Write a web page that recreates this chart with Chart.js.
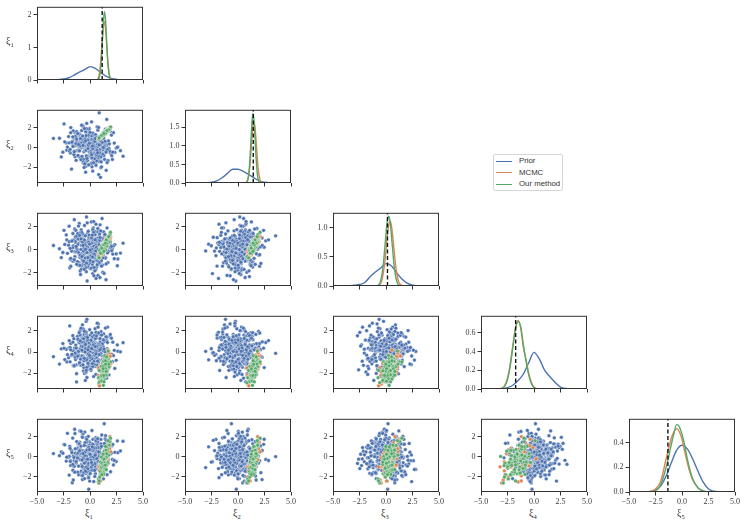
<!DOCTYPE html>
<html>
<head>
<meta charset="utf-8">
<script src="https://cdn.jsdelivr.net/npm/chart.js@4.4.1/dist/chart.umd.min.js"></script>
<style>
  body { margin: 0; background: #fff; width: 747px; height: 525px; position: relative; overflow: hidden; font-family: "Liberation Serif", "DejaVu Serif", serif; color: #333; }
  canvas { position: absolute; }
  .lab { position: absolute; font-size: 10px; color: #333; white-space: nowrap; }
  .lab sub { font-size: 6.5px; }
  #legend { position: absolute; left: 493px; top: 154px; width: 68px; height: 35px; border: 1px solid #d6d6d6; border-radius: 2px; font-family: "Liberation Sans", "DejaVu Sans", sans-serif; font-size: 7.8px; color: #333; }
  #legend div { position: absolute; left: 25px; }
  #legend span { position: absolute; left: 2px; width: 16px; height: 0; border-top: 1.5px solid; }
</style>
</head>
<body>
<div id="legend">
  <span style="top:5.5px;border-color:#4c72b0"></span><div style="top:1px">Prior</div>
  <span style="top:17px;border-color:#dd8452"></span><div style="top:12.5px">MCMC</div>
  <span style="top:28.5px;border-color:#55a868"></span><div style="top:24px">Our method</div>
</div>
<script>
// variable names
const names = ['1', '2', '3', '4', '5'];
// true parameter (dashed line on the diagonal)
const truth = [1.15, 1.44, 0.14, -1.73, -1.33];

// prior samples, one array per parameter
const prior1 = [-0.42, 1.13, 0.27, -1.58, 0.84, -0.06, 2.11, -0.93, 0.51, -0.31, 1.47, -2.24, 0.09, 0.66, -1.12, 0.38, -0.71, 1.79, -0.19, 0.95,
  -1.36, 0.22, -0.57, 1.02, -0.88, 0.44, 2.63, -0.14, -1.91, 0.73, 0.31, -0.49, 1.28, -1.04, 0.05, -2.71, 0.87, -0.27, 1.56, -0.65,
  0.18, -1.23, 0.59, 1.94, -0.38, -0.81, 0.12, 1.17, -1.67, 0.48, -0.09, 0.91, -0.52, 2.34, -1.45, 0.26, -0.74, 0.63, -0.21, 1.39,
  -0.98, 0.03, 1.71, -1.81, 0.36, -0.33, 0.79, -2.02, 0.55, -0.61, 1.21, -0.16, 0.42, -1.29, 0.97, -0.44, 0.15, 2.87, -0.83, 0.69,
  -0.24, -1.52, 0.33, 1.08, -0.68, 0.57, -3.45, 0.21, -0.11, 1.62, -1.07, 0.47, -0.36, 0.82, -1.97, 0.07, 1.34, -0.55, 0.29, -0.79,
  1.88, -0.28, 0.64, -1.18, 0.14, -0.62, 1.15, -2.45, 0.41, -0.03, 0.76, -1.39, 0.52, 1.43, -0.47, -0.89, 0.24, 2.05, -1.61, 0.35,
  -0.13, 0.88, -0.72, 1.25, -1.01, 0.61, -0.34, 0.01, 1.66, -1.74, 0.45, -0.58, 0.93, -0.18, -2.19, 0.71, 0.16, -0.95, 1.51, -0.41,
  0.32, -1.31, 1.04, -0.22, 0.58, -0.77, 3.12, -1.09, 0.19, -0.51, 0.85, -1.48, 0.39, 1.31, -0.64, 0.08, -0.29, 1.83, -1.21, 0.53,
  -0.86, 0.46, -0.07, 1.19, -1.63, 0.25, -0.39, 0.74, -2.56, 0.62, 1.45, -0.12, -0.69, 0.37, -1.15, 0.99, 0.11, -0.46, 2.21, -0.91,
  0.28, -1.86, 0.67, -0.25, 1.06, -0.54, 0.17, -1.42, 0.81, -0.35, 1.58, -0.02, -0.78, 0.43, -1.27, 0.94, -0.17, 0.56, -0.99, 1.23,
  0.58, -0.73, 1.36, -0.15, 0.21, -1.44, 0.92, -0.37, 1.74, -0.82, 0.04, 0.67, -1.96, 0.39, -0.26, 1.11, -0.59, 0.83, -1.17, 2.47,
  -0.45, 0.14, 1.29, -0.96, 0.51, -0.08, -1.58, 0.76, 0.33, -0.67, 1.53, -0.21, 0.97, -1.34, 0.06, -2.38, 0.62, 0.27, -0.84, 1.18,
  0.43, -1.06, 0.19, 1.69, -0.52, 0.85, -0.31, 0.02, -1.71, 1.37, 0.55, -0.44, 2.15, -0.13, 0.71, -0.94, 0.36, -1.25, 1.02, -0.61,
  -0.18, 0.94, -0.71, 0.23, 1.46, -1.51, 0.48, -0.04, -0.89, 1.61, 0.29, -0.38, 0.79, -2.13, 0.12, 0.66, -0.56, 1.24, -1.02, 0.41,
  1.07, -0.27, 0.52, -1.39, 0.17, 2.58, -0.64, 0.35, -0.1, 0.89, -1.82, 0.61, -0.33, 1.41, -0.79, 0.08, 0.74, -1.13, 0.46, -0.49,
  -1.27, 0.31, 0.86, -0.6, 1.92, -0.16, 0.24, -2.88, 0.68, -0.41, 1.14, -0.93, 0.13, 0.53, -1.49, 0.96, -0.23, 0.38, -0.7, 1.65,
  0.09, -1.16, 0.73, -0.35, 1.33, -0.53, 0.18, 2.29, -0.99, 0.44, -0.12, 0.87, -1.62, 0.26, 0.63, -0.47, 1.19, -0.85, 0.01, -1.31,
  0.57, 1.52, -0.66, 0.34, -0.2, -1.88, 0.81, 0.15, -0.54, 1.27, -0.29, 0.49, -1.08, 0.72, 2.02, -0.76, 0.22, -0.42, 1.09, -0.05];
const prior2 = [0.63, -0.85, 1.41, 0.12, -0.37, 1.96, -1.22, 0.28, -0.64, 0.91, -0.15, 0.47, -1.73, 1.08, 0.34, -0.52, 2.27, -0.09, -1.06, 0.72,
  0.19, 1.33, -0.44, -2.08, 0.58, -0.81, 0.06, 1.65, -0.29, 0.87, -1.38, 0.41, -0.67, 1.17, 0.23, -0.96, 3.55, -0.21, 0.52, -1.49,
  1.02, -0.33, 0.78, -0.58, -1.91, 0.14, 1.26, -0.73, 0.45, -0.11, 1.84, -1.17, 0.31, -0.49, 0.96, -2.41, 0.08, 0.67, -0.87, 1.49,
  -0.26, 0.55, -1.33, 2.04, -0.41, 0.17, -0.75, 1.12, 0.39, -1.62, 0.84, -0.05, -0.59, 1.36, -1.01, 0.27, 2.62, -0.32, 0.69, -1.26,
  0.44, -0.69, 1.21, -0.17, 0.03, -1.84, 0.93, -0.46, 1.58, 0.21, -0.91, 0.61, -0.24, -2.77, 0.48, 1.07, -0.62, 0.36, -1.11, 1.73,
  -0.38, 0.82, -0.14, 1.29, -1.56, 0.16, -0.78, 2.41, -0.04, 0.59, -1.24, 0.37, 0.98, -0.53, -1.69, 0.26, 1.44, -0.83, 0.11, -0.34,
  1.15, -1.43, 0.49, -0.19, 0.76, -0.97, 1.92, -0.61, 0.33, -2.21, 0.65, 0.02, -0.71, 1.38, -0.27, 0.54, -1.08, 0.89, -0.43, 1.61,
  -0.12, -1.31, 0.71, 0.24, -0.56, 1.23, -0.89, 0.42, -1.97, 0.13, 1.04, -0.36, 0.57, -0.82, 2.16, -0.07, -1.18, 0.38, 0.85, -0.65,
  0.29, -1.52, 1.31, -0.23, 0.66, -0.99, 0.09, 1.78, -0.48, -1.37, 0.51, -0.16, 1.09, -0.74, 0.22, -3.05, 0.79, -0.31, 1.52, -1.05,
  0.35, -0.55, 0.94, -0.08, -1.46, 0.62, 1.19, -0.93, 0.18, -0.28, 2.88, -0.66, 0.47, -1.14, 0.73, -0.39, 1.27, -1.79, 0.04, 0.86,
  -0.49, 1.18, 0.32, -0.91, 0.07, 1.57, -0.23, -1.45, 0.69, 0.14, -0.63, 2.12, -0.34, 0.51, -1.14, 0.88, 0.26, -0.77, 1.34, -0.06,
  0.45, -1.62, 0.97, -0.18, 0.62, -0.41, 1.71, -1.03, 0.11, 0.79, -2.33, 0.36, -0.52, 1.09, -0.14, 0.58, -0.87, 1.46, 0.03, -0.69,
  1.25, -0.28, 0.84, -1.36, 0.19, -0.58, 2.47, -0.02, 0.55, -1.21, 0.38, 1.01, -0.47, -1.79, 0.73, 0.09, -0.36, 1.63, -0.95, 0.24,
  -0.12, 0.67, -1.28, 0.43, 1.88, -0.72, 0.16, -0.44, 0.93, -1.54, 0.29, 1.22, -0.84, 0.05, -0.25, 0.81, -2.04, 0.48, 1.39, -0.6,
  0.21, -0.98, 0.59, 1.13, -0.31, 0.02, -1.41, 0.76, 0.37, -0.54, 1.52, -0.17, -1.09, 0.64, 2.29, -0.39, 0.13, -0.81, 1.04, -1.67,
  0.87, -0.07, 0.41, -1.19, 1.68, 0.25, -0.62, 0.95, -0.29, -2.52, 0.53, 0.18, -0.76, 1.31, -0.43, 0.71, -1.32, 0.06, 1.17, -0.21,
  -0.57, 1.43, 0.34, -0.86, 0.12, 1.94, -1.05, 0.46, -0.35, 0.63, -1.76, 0.27, 1.08, -0.11, -0.68, 0.85, 0.01, -1.24, 1.55, 0.39,
  1.02, -0.46, 0.22, -1.57, 0.78, -0.19, 2.05, -0.74, 0.57, -0.01, -1.12, 0.91, 0.31, -0.53, 1.27, -0.9, 0.15, 0.68, -1.98, 0.44];
const prior3 = [-0.21, 0.74, -1.05, 0.33, 1.62, -0.47, 0.08, -1.83, 0.92, 0.41, -0.66, 1.27, -0.14, -2.31, 0.55, -0.38, 1.01, 0.17, -0.89, 2.14,
  0.62, -1.27, 0.23, -0.51, 1.43, -0.02, -0.79, 0.86, -1.56, 0.35, 1.88, -0.33, 0.49, -1.11, 0.12, -0.68, 1.19, -2.69, 0.27, 0.71,
  -0.42, 1.06, -0.95, 0.18, 0.58, -1.67, 2.39, -0.25, 0.83, -0.57, 0.04, 1.35, -1.21, 0.44, -0.16, -2.05, 0.67, 1.53, -0.73, 0.29,
  1.12, -0.37, 0.61, -1.42, 0.09, 2.81, -0.84, 0.38, -0.06, 1.24, -1.94, 0.52, -0.61, 0.97, 0.14, -1.15, 0.76, -0.29, 1.71, -0.48,
  0.25, -0.99, 1.47, -0.18, 0.65, -2.47, 0.36, -0.54, 1.09, 0.01, -1.35, 0.81, -0.23, 0.47, 2.02, -0.77, 0.19, -1.61, 0.94, -0.35,
  0.53, 1.31, -0.64, -1.02, 0.28, 0.87, -0.41, 1.66, -1.76, 0.11, -0.27, 0.72, -0.86, 1.18, 0.42, -2.13, 0.59, -0.09, 1.39, -0.52,
  -1.29, 0.34, 0.98, -0.44, 2.26, -0.71, 0.15, -1.08, 0.63, -0.12, 1.57, -0.58, 0.26, -1.49, 0.84, -0.31, 0.07, 1.21, -2.58, 0.46,
  0.89, -0.19, -0.81, 1.44, 0.31, -1.37, 0.56, -0.04, 1.03, -0.92, 0.21, 2.58, -0.46, 0.68, -1.18, 0.39, -0.65, 1.14, -0.13, -1.71,
  0.77, -0.36, 1.26, 0.05, -0.97, 0.48, -1.53, 1.82, -0.24, 0.61, -0.72, 0.16, 1.36, -2.24, 0.43, -0.11, 0.93, -1.25, 0.32, -0.55,
  1.68, -0.83, 0.22, 0.73, -1.41, 0.02, 1.11, -0.6, 0.37, -1.89, 0.85, -0.26, 1.49, -0.69, 0.13, -1.03, 0.58, 2.19, -0.43, 0.96,
  0.51, -0.88, 1.21, 0.07, -0.44, 1.78, -1.19, 0.32, -0.15, 0.96, -1.63, 0.24, 0.69, -0.57, 2.31, -0.03, -1.01, 0.47, 1.14, -0.36,
  -0.71, 0.18, 1.52, -1.34, 0.39, -0.09, 0.82, -2.21, 0.61, -0.48, 1.07, 0.13, -0.79, 1.66, -0.24, 0.45, -1.47, 0.86, 0.02, -0.62,
  1.35, -0.27, 0.58, -1.11, 2.08, -0.53, 0.21, -0.93, 0.74, 0.09, -1.72, 1.19, -0.38, 0.44, 0.97, -0.66, 0.28, -1.26, 1.61, -0.12,
  0.35, -2.39, 0.89, -0.18, 0.53, -0.82, 1.28, 0.04, -0.49, 1.87, -1.05, 0.26, 0.67, -0.31, -1.58, 0.79, 0.15, -0.69, 1.43, -0.06,
  -0.95, 0.62, 0.11, 1.09, -0.41, -1.38, 0.49, 2.42, -0.22, 0.81, -0.74, 0.19, -1.15, 1.31, 0.37, -0.56, 0.01, 0.92, -1.82, 0.58,
  1.17, -0.34, 0.43, -0.99, 0.71, 1.59, -0.63, 0.08, -1.29, 0.34, 2.68, -0.47, 0.55, -0.13, -0.86, 1.04, 0.23, -1.52, 0.66, -0.28,
  -0.17, 1.38, -0.58, 0.31, -2.04, 0.84, 0.05, -0.77, 1.23, -0.39, 0.64, -1.08, 0.17, 1.72, -0.51, 0.42, -1.33, 0.93, -0.04, 0.27,
  0.75, -1.22, 0.38, 1.49, -0.68, 0.12, -0.43, 1.02, -1.69, 0.57, -0.25, 0.86, 2.03, -0.92, 0.29, -0.59, 1.26, 0.03, -1.41, 0.48];
const prior4 = [0.86, -0.34, 1.18, -1.27, 0.15, 0.52, -0.91, 2.03, -0.18, -0.63, 1.41, 0.27, -1.74, 0.69, -0.05, 1.02, -0.48, -2.16, 0.38, 0.93,
  -0.71, 0.44, 1.67, -0.22, -1.09, 0.61, 0.08, -0.57, 2.48, -0.35, 0.76, -1.43, 0.19, 1.23, -0.81, 0.31, -0.12, 1.55, -2.47, 0.57,
  1.09, -0.49, 0.24, -0.96, 1.79, 0.36, -1.18, 0.63, -0.27, 2.21, -0.68, 0.13, 0.97, -1.55, 0.42, -0.09, 1.34, -0.76, 0.51, -1.97,
  0.28, 1.61, -0.39, 0.82, -1.32, 0.06, 2.67, -0.53, 0.47, -0.84, 1.14, -0.16, 0.72, -1.21, 0.35, -2.69, 0.91, 0.02, 1.48, -0.61,
  -0.24, 1.27, 0.55, -1.06, 0.19, 1.87, -0.44, 0.67, -1.61, 0.33, 0.98, -0.29, 2.92, -0.73, 0.41, -1.38, 0.14, 1.06, -0.57, 0.79,
  1.52, -0.87, 0.26, -0.14, 1.19, -1.79, 0.58, 0.37, -0.66, 2.12, -1.02, 0.45, 0.09, -0.41, 1.38, -1.26, 0.71, -0.21, 0.94, -2.31,
  0.17, 1.71, -0.58, 0.49, -1.13, 0.84, 0.03, -0.79, 2.37, -0.31, 0.63, -1.47, 1.25, 0.22, -0.92, 0.56, -0.07, 1.57, -1.68, 0.39,
  0.74, -0.26, 1.94, -1.12, 0.31, -0.52, 0.89, -0.01, 1.33, -2.02, 0.61, 0.18, -0.69, 1.16, -0.38, 0.48, 3.11, -0.93, 0.27, -1.35,
  1.03, -0.45, 0.66, -1.71, 0.12, 1.46, -0.62, 0.34, 0.81, -1.17, 2.28, -0.19, 0.53, -0.86, 1.21, 0.07, -1.53, 0.76, -0.33, 1.64,
  -0.11, 0.43, -1.24, 0.95, 0.29, -0.74, 1.81, -0.47, 0.59, -1.89, 1.09, 0.21, -0.36, 0.68, -2.83, 1.29, -0.55, 0.16, 0.88, -1.01,
  -0.52, 1.24, 0.09, -1.36, 0.71, 0.38, -0.83, 1.91, -0.19, 0.56, -1.57, 0.23, 1.08, -0.64, 0.44, -2.27, 0.92, -0.11, 1.49, -0.78,
  0.31, -0.42, 1.72, -1.11, 0.14, 0.85, -0.27, 2.36, -0.96, 0.51, -0.05, 1.17, -1.64, 0.66, 0.02, -0.71, 1.35, 0.27, -1.23, 0.79,
  1.58, -0.34, 0.47, -0.88, 2.04, 0.16, -1.47, 0.62, -0.21, 1.02, -2.12, 0.41, 0.94, -0.58, 0.11, 1.63, -0.93, 0.35, -0.14, 1.26,
  -1.05, 0.57, 2.58, -0.45, 0.19, -1.32, 0.83, 0.06, -0.67, 1.42, 0.29, -1.89, 0.74, -0.25, 1.13, 0.49, -0.81, 0.12, 1.84, -1.18,
  0.36, -0.61, 1.29, -0.09, -1.42, 0.68, 2.19, -0.37, 0.53, -0.98, 0.21, 1.54, -0.72, 0.03, 0.97, -1.61, 0.42, 1.21, -0.29, 0.64,
  -2.05, 0.88, 0.15, -0.54, 1.67, -0.18, 0.46, -1.14, 2.74, 0.32, -0.76, 1.06, -0.43, 0.59, -1.29, 0.24, 1.39, -0.87, 0.08, 0.91,
  1.12, -0.39, 0.61, -1.73, 0.28, 1.97, -0.63, 0.17, -1.01, 0.76, 0.43, -0.24, 1.56, -1.37, 0.55, 0.01, -0.69, 2.27, -0.48, 0.39,
  -0.16, 1.45, -1.21, 0.67, 0.22, -0.92, 1.81, 0.33, -0.59, 1.15, -2.41, 0.52, 0.07, -0.85, 1.32, 0.18, -1.09, 0.73, 1.61, -0.31];
const prior5 = [0.37, -1.14, 0.82, 0.06, -0.59, 1.49, -0.27, 0.95, -1.68, 0.21, 2.09, -0.43, 0.64, -0.88, 1.27, -0.12, -2.27, 0.53, 1.11, -0.71,
  -0.36, 0.78, -1.23, 1.72, 0.13, -0.54, 0.41, -1.91, 1.03, 0.29, -0.82, 2.45, -0.17, 0.67, -1.37, 0.48, 0.02, -0.66, 1.36, -1.05,
  0.91, -0.22, 1.58, -1.49, 0.34, -0.76, 0.18, 1.21, -2.58, 0.57, -0.31, 0.86, -1.08, 0.44, 2.73, -0.49, 0.11, -0.93, 1.42, -0.15,
  -1.61, 0.62, 0.25, -0.38, 1.15, -1.26, 0.74, -0.07, 1.89, -0.61, 0.39, -2.06, 0.96, 0.08, -0.79, 1.33, -0.26, 0.58, -1.44, 0.17,
  1.06, -0.91, 0.47, -0.19, 2.24, -1.17, 0.32, 0.73, -0.52, 1.64, -1.79, 0.22, -0.35, 0.99, 0.04, -1.31, 3.28, -0.64, 0.51, -0.97,
  0.28, 1.47, -0.69, -1.52, 0.83, 0.14, -0.44, 1.23, -0.09, -2.41, 0.65, 0.36, -1.02, 1.78, -0.28, 0.55, -0.84, 1.08, -1.34, 0.19,
  -0.57, 0.88, 2.01, -0.33, 0.45, -1.21, 0.09, 1.37, -0.73, 0.61, -1.95, 0.26, 1.19, -0.47, -0.04, 0.79, -1.11, 2.57, -0.24, 0.42,
  0.69, -0.62, 1.28, -1.41, 0.16, -0.86, 1.54, 0.31, -0.18, -2.17, 0.93, -0.39, 0.58, 1.12, -1.58, 0.03, -0.75, 1.67, 0.24, -1.19,
  -0.29, 1.01, 0.46, -0.98, 1.86, -0.14, -1.65, 0.71, 0.35, -0.56, 1.25, -3.22, 0.52, -0.21, 0.87, -1.07, 0.13, 1.41, -0.81, 0.38,
  1.73, -0.46, 0.27, -1.29, 0.94, 0.05, -0.68, 2.31, -1.03, 0.49, -0.37, 1.16, -1.86, 0.63, -0.11, 0.82, -0.59, 1.32, -0.25, -1.47,
  0.44, -0.97, 1.31, -0.26, 0.72, -1.53, 0.16, 1.88, -0.61, 0.35, -0.08, 1.07, -1.82, 0.58, -0.39, 2.16, 0.23, -1.15, 0.81, -0.47,
  -1.24, 0.63, 0.09, 1.46, -0.73, 0.28, -2.31, 0.91, -0.15, 0.52, 1.63, -0.88, 0.37, -0.04, -1.41, 1.19, 0.45, -0.62, 2.52, -0.29,
  0.17, 1.36, -1.06, 0.69, -0.34, 0.02, 1.74, -1.67, 0.41, -0.55, 0.86, -0.19, 1.22, -2.08, 0.31, 0.74, -0.83, 1.51, -0.12, 0.57,
  -0.66, 0.25, 1.93, -1.32, 0.48, -0.07, -0.91, 1.14, 0.36, -1.78, 0.65, 0.12, -0.44, 2.33, -1.01, 0.53, 0.06, -0.71, 1.28, -0.22,
  1.03, -1.48, 0.29, 0.79, -0.58, 1.57, -0.16, -2.46, 0.95, 0.21, -0.86, 1.41, 0.07, -1.12, 0.62, -0.31, 1.84, 0.39, -0.69, 0.13,
  -0.41, 1.17, 0.54, -1.59, 0.27, 2.03, -0.79, 0.11, 1.33, -0.53, -1.26, 0.66, 0.04, 1.69, -0.95, 0.42, -0.24, 0.87, -1.87, 0.33,
  0.76, -0.12, 1.48, -1.03, 0.19, -0.63, 2.61, -0.36, 0.58, -1.36, 0.93, 0.01, -0.76, 1.24, -0.18, 0.47, -1.71, 1.06, 0.24, -0.49,
  1.59, -0.84, 0.32, -0.02, -1.19, 0.83, 0.49, -0.57, 1.12, -2.19, 0.68, 0.15, -0.93, 1.78, 0.38, -0.33, 0.97, -1.44, 0.09, 0.71];

// MCMC posterior samples
const mcmc1 = [0.85, 1.9, 0.95, 1.78, 1.47, 1.22, 1.62, 1.05, 1.25, 1.55, 0.82, 1.95, 1.8, 0.9, 1.1, 1.7, 1.0, 1.88, 1.3, 1.6,
  0.92, 1.75, 1.15, 1.5, 0.88, 1.9, 1.4, 1.12, 1.68, 1.0, 1.45, 1.33, 1.58, 1.05, 1.72, 0.78, 1.2, 1.5, 1.85, 1.1];
const mcmc2 = [0.95, 2.05, 1.02, 1.95, 1.6, 1.3, 1.7, 1.15, 1.38, 1.62, 0.88, 2.1, 1.88, 1.02, 1.3, 1.9, 1.15, 1.85, 1.38, 1.74,
  0.9, 2.0, 1.26, 1.6, 1.0, 1.9, 1.5, 1.24, 1.8, 1.1, 1.6, 1.42, 1.66, 1.15, 1.88, 0.85, 1.32, 1.58, 1.95, 1.25];
const mcmc3 = [-0.45, 1.35, -0.55, 1.2, 0.75, -0.25, 0.45, 0.1, -0.2, 0.95, -0.5, 1.1, 1.1, -0.7, 0.25, 0.55, 0.05, 0.85, -0.1, 1.0,
  -0.1, 0.7, -0.45, 0.95, -0.2, 1.0, 0.1, -0.3, 0.45, 0.2, 0.85, 0.5, 0.3, -0.35, 0.7, -0.6, 0.5, 0.1, 1.1, 0.0];
const mcmc4 = [-3.05, -0.35, -2.9, 0.1, -2.1, -1.0, -1.9, -1.3, -2.6, -0.5, -2.2, -1.1, -0.1, -3.2, -2.75, 0.2, -1.2, -1.2, -0.9, -1.9,
  -2.4, -0.8, -1.9, -1.6, -2.8, -0.4, -2.3, -1.1, -1.4, -2.5, -2.2, -0.7, -0.3, -2.8, -1.6, -1.5, -1.0, -2.1, -1.4, -1.2];
const mcmc5 = [-2.6, 1.75, -2.3, 1.6, -1.0, 0.2, -0.8, -0.2, 0.3, -0.9, -1.0, 0.5, 0.9, -1.0, -1.8, -0.2, -2.4, 2.0, 0.5, -0.2,
  -2.0, 1.4, -0.1, -0.8, -1.4, 1.1, 0.4, -0.9, -0.4, -0.6, 0.8, -0.7, -0.6, -0.5, -0.3, -2.5, 0.1, 0.0, 0.8, -1.9];

// samples from our method
const ours1 = [1.41, 1.13, 1.65, 1.40, 1.06, 1.43, 1.52, 1.28, 0.80, 1.76, 1.26, 1.55, 1.14, 1.40, 1.88, 1.20, 1.62, 1.28, 1.05, 1.51,
  1.24, 1.40, 1.64, 1.36, 0.96, 1.41, 1.58, 1.20, 1.59, 1.22, 1.41, 1.34, 1.03, 1.93, 1.47, 1.24, 1.74, 1.24, 1.36, 0.84,
  1.48, 1.19, 1.65, 1.32, 1.10, 1.50, 1.30, 1.71, 1.36, 1.11, 1.46, 1.65, 0.98, 1.54, 1.18, 1.44, 1.32, 1.56, 1.18, 1.43,
  1.38, 1.07, 1.48, 1.34, 1.71, 1.23, 1.49, 1.28, 1.66, 0.92, 1.41, 1.21, 1.42, 1.52, 1.12, 1.39, 1.29, 1.80, 1.26, 1.53,
  1.08, 1.43, 1.61, 1.30, 0.99, 1.46, 1.29, 1.60, 1.13, 1.76, 1.47, 1.23, 0.86, 1.54, 1.58, 1.23, 1.32, 1.11, 1.45, 1.31];
const ours2 = [1.43, 1.33, 1.70, 1.63, 1.09, 1.48, 1.55, 1.47, 0.92, 1.87, 1.36, 1.60, 1.15, 1.54, 1.87, 1.40, 1.69, 1.54, 1.19, 1.53,
  1.27, 1.59, 1.77, 1.32, 1.14, 1.38, 1.72, 1.35, 1.74, 1.22, 1.61, 1.41, 1.25, 2.08, 1.48, 1.36, 1.71, 1.49, 1.40, 0.86,
  1.70, 1.23, 1.68, 1.55, 1.22, 1.47, 1.41, 1.82, 1.47, 1.35, 1.50, 1.79, 1.08, 1.63, 1.34, 1.51, 1.36, 1.74, 1.19, 1.55,
  1.56, 1.13, 1.67, 1.31, 1.82, 1.38, 1.45, 1.45, 1.76, 1.11, 1.56, 1.40, 1.40, 1.61, 1.30, 1.44, 1.38, 1.85, 1.36, 1.67,
  1.23, 1.52, 1.67, 1.31, 1.15, 1.65, 1.50, 1.55, 1.33, 1.80, 1.48, 1.43, 1.00, 1.61, 1.72, 1.26, 1.54, 1.25, 1.43, 1.41];
const ours3 = [0.45, -0.04, 0.83, 0.18, -0.10, 0.01, 0.76, 0.27, -0.75, 0.75, 0.56, 0.29, 0.24, 0.40, 1.30, -0.04, 0.64, 0.21, -0.28, 0.80,
  0.20, 0.26, 0.51, 0.45, -0.13, 0.65, 0.27, 0.20, 0.74, -0.21, 0.60, 0.15, 0.09, 1.50, 0.34, 0.40, 0.76, -0.09, 0.67, -0.60,
  0.44, 0.23, 0.41, 0.46, -0.09, 0.72, -0.02, 0.88, 0.30, -0.08, 0.13, 0.94, 0.10, 0.45, 0.27, -0.01, 0.46, 0.70, -0.29, 0.49,
  0.67, 0.10, 0.20, 0.55, 1.08, -0.22, 0.63, -0.03, 0.60, -0.05, 0.57, 0.42, -0.08, 0.82, -0.31, 0.25, 0.27, 0.66, 0.29, 0.61,
  0.31, 0.12, 0.76, -0.01, -0.30, 0.70, 0.45, 0.32, 0.05, 1.12, -0.02, 0.42, -0.70, 0.84, 0.53, 0.05, 0.43, 0.13, 0.56, -0.14];
const ours4 = [-1.81, -1.33, -1.31, -0.80, -2.48, -1.34, -1.75, -1.38, -2.43, -0.66, -2.30, -1.23, -2.01, -2.25, -0.92, -0.94, -1.80, -1.95, -1.60, -0.89,
  -2.28, -1.21, -0.95, -1.93, -2.67, -0.89, -1.54, -1.61, -0.65, -1.66, -2.27, -0.88, -2.33, -0.94, -1.14, -1.96, -1.51, -1.25, -2.13, -2.90,
  -0.47, -2.51, -1.18, -1.88, -1.35, -1.45, -1.80, -1.32, -0.61, -2.08, -0.92, -1.38, -1.81, -2.11, -1.12, -1.70, -1.27, -2.12, -2.19, -1.18,
  -2.36, -1.35, -1.96, -2.57, 0.10, -0.91, -1.40, -1.79, -0.74, -2.79, -0.45, -2.17, -1.05, -2.19, -2.67, -0.33, -1.30, -1.39, -3.15, -1.60,
  -1.80, -1.00, -0.87, -2.34, -1.78, -1.58, -0.85, -0.93, -2.75, -1.14, -1.15, -1.75, -1.74, -1.83, -0.46, -1.58, -2.82, -2.23, -0.82, -2.22];
const ours5 = [0.02, -1.22, 0.59, -0.79, -1.14, 0.27, -0.15, -1.46, -2.20, 1.03, 0.37, -0.19, -0.45, -0.69, 1.50, -0.96, -0.57, -0.36, -1.69, 0.78,
  -0.54, 0.28, -0.01, 0.02, -1.78, -1.25, 0.17, -0.32, -0.08, -0.06, -0.65, -1.10, -0.85, 1.85, 0.73, -1.70, 1.15, -0.42, -0.61, -2.60,
  0.31, -0.98, 0.77, -1.33, -1.02, 0.09, 0.11, 0.10, -0.04, -1.59, -0.54, 1.13, -1.49, -0.85, -0.14, 0.73, -1.58, 0.10, -0.32, 0.13,
  0.59, -1.68, 0.63, 0.56, 1.60, 0.01, -1.30, -0.22, -0.56, -2.02, 0.08, -1.81, -1.15, 0.64, -0.75, -0.56, -1.60, 1.15, 0.03, -0.74,
  -0.03, -0.17, 0.05, -0.57, -0.53, 0.34, -1.75, 0.99, -0.65, 0.17, 1.02, -0.82, -2.40, -1.28, 0.30, 0.26, -0.89, -1.78, -0.83, -0.23];

// KDE curves of the diagonal panels
const kdeGrid = [-5, -4.5, -4, -3.5, -3, -2.5, -2, -1.5, -1, -0.5, 0, 0.5, 1, 1.5, 2, 2.5, 3, 3.5, 4, 4.5, 5];
const priorKde1 = [0, 0, 0.002, 0.005, 0.012, 0.03, 0.07, 0.15, 0.24, 0.32, 0.41, 0.36, 0.23, 0.12, 0.05, 0.02, 0.007, 0.002, 0, 0, 0];
const priorKde2 = [0, 0, 0.001, 0.003, 0.008, 0.02, 0.06, 0.14, 0.26, 0.37, 0.37, 0.31, 0.23, 0.14, 0.06, 0.02, 0.006, 0.002, 0, 0, 0];
const priorKde3 = [0, 0, 0.002, 0.006, 0.012, 0.025, 0.06, 0.16, 0.24, 0.31, 0.385, 0.35, 0.23, 0.12, 0.05, 0.015, 0.005, 0.001, 0, 0, 0];
const priorKde4 = [0, 0, 0, 0.001, 0.003, 0.015, 0.04, 0.09, 0.16, 0.28, 0.39, 0.32, 0.2, 0.13, 0.07, 0.02, 0.005, 0.001, 0, 0, 0];
const priorKde5 = [0, 0, 0, 0.001, 0.004, 0.015, 0.05, 0.13, 0.24, 0.34, 0.38, 0.35, 0.27, 0.17, 0.08, 0.025, 0.006, 0.001, 0, 0, 0];

const mcmcKdeX1 = [0.55, 0.65, 0.75, 0.85, 0.95, 1.05, 1.15, 1.25, 1.35, 1.45, 1.55, 1.65, 1.75, 1.85, 1.95, 2.05, 2.15];
const mcmcKde1 = [0, 0.01, 0.04, 0.14, 0.35, 0.71, 1.19, 1.62, 1.8, 1.62, 1.19, 0.71, 0.35, 0.14, 0.04, 0.01, 0];
const oursKdeX1 = [0.67, 0.77, 0.87, 0.97, 1.07, 1.17, 1.27, 1.37, 1.47, 1.57, 1.67, 1.77, 1.87, 1.97, 2.07];
const oursKde1 = [0, 0.01, 0.07, 0.23, 0.6, 1.21, 1.83, 2.1, 1.83, 1.21, 0.6, 0.23, 0.07, 0.01, 0];

const mcmcKdeX2 = [0.6, 0.7, 0.8, 0.9, 1.0, 1.1, 1.2, 1.3, 1.4, 1.5, 1.6, 1.7, 1.8, 1.9, 2.0, 2.1, 2.2, 2.3, 2.4];
const mcmcKde2 = [0, 0.01, 0.02, 0.07, 0.19, 0.41, 0.75, 1.17, 1.51, 1.65, 1.51, 1.17, 0.75, 0.41, 0.19, 0.07, 0.02, 0.01, 0];
const oursKdeX2 = [0.72, 0.82, 0.92, 1.02, 1.12, 1.22, 1.32, 1.42, 1.52, 1.62, 1.72, 1.82, 1.92, 2.02, 2.12];
const oursKde2 = [0, 0.02, 0.08, 0.25, 0.61, 1.13, 1.65, 1.87, 1.65, 1.13, 0.61, 0.25, 0.08, 0.02, 0];

const mcmcKdeX3 = [-0.82, -0.62, -0.42, -0.22, -0.12, -0.02, 0.08, 0.18, 0.28, 0.38, 0.48, 0.58, 0.68, 0.78, 0.88, 0.98, 1.18, 1.38, 1.58];
const mcmcKde3 = [0, 0.02, 0.08, 0.26, 0.40, 0.58, 0.78, 0.95, 1.075, 1.12, 1.075, 0.95, 0.78, 0.58, 0.40, 0.26, 0.08, 0.02, 0];
const oursKdeX3 = [-0.95, -0.75, -0.55, -0.35, -0.25, -0.15, -0.05, 0.05, 0.15, 0.25, 0.35, 0.45, 0.55, 0.65, 0.75, 0.85, 1.05, 1.25, 1.45];
const oursKde3 = [0, 0.01, 0.06, 0.23, 0.38, 0.58, 0.79, 1.0, 1.15, 1.2, 1.15, 1.0, 0.79, 0.58, 0.38, 0.23, 0.06, 0.01, 0];

const kdeX4 = [-3.5, -3.25, -3, -2.75, -2.5, -2.25, -2, -1.75, -1.5, -1.25, -1, -0.75, -0.5, -0.25, 0, 0.25, 0.5];
const mcmcKde4 = [0, 0.003, 0.01, 0.04, 0.115, 0.26, 0.46, 0.65, 0.73, 0.65, 0.44, 0.31, 0.17, 0.07, 0.02, 0.005, 0];
const oursKde4 = [0, 0.002, 0.008, 0.03, 0.1, 0.24, 0.44, 0.64, 0.72, 0.66, 0.47, 0.3, 0.15, 0.06, 0.015, 0.003, 0];

const kdeX5 = [-3.5, -3, -2.5, -2, -1.5, -1.25, -1, -0.75, -0.5, -0.25, 0, 0.25, 0.5, 0.75, 1, 1.5, 2, 2.5];
const mcmcKde5 = [0, 0.004, 0.025, 0.09, 0.27, 0.36, 0.44, 0.49, 0.515, 0.49, 0.43, 0.33, 0.24, 0.16, 0.1, 0.035, 0.008, 0];
const oursKde5 = [0, 0.001, 0.01, 0.06, 0.2, 0.29, 0.39, 0.48, 0.55, 0.53, 0.47, 0.38, 0.27, 0.18, 0.11, 0.035, 0.008, 0];

// axis limits per row
const diagMax = [2.25, 1.97, 1.26, 0.78, 0.595];
const diagStep = [1, 0.5, 0.5, 0.2, 0.2];
const offMin = [0, -3.63, -3.12, -3.5, -3.5];
const offMax = [0, 3.86, 3.17, 3.44, 3.77];

const prior = [prior1, prior2, prior3, prior4, prior5];
const mcmc = [mcmc1, mcmc2, mcmc3, mcmc4, mcmc5];
const ours = [ours1, ours2, ours3, ours4, ours5];
const priorKde = [priorKde1, priorKde2, priorKde3, priorKde4, priorKde5];
const mcmcKde = [[mcmcKdeX1, mcmcKde1], [mcmcKdeX2, mcmcKde2], [mcmcKdeX3, mcmcKde3], [kdeX4, mcmcKde4], [kdeX5, mcmcKde5]];
const oursKde = [[oursKdeX1, oursKde1], [oursKdeX2, oursKde2], [oursKdeX3, oursKde3], [kdeX4, oursKde4], [kdeX5, oursKde5]];

const BLUE = '#4c72b0', ORANGE = '#dd8452', GREEN = '#55a868';
const lefts = [37, 185, 333, 481, 629];
const tops = [6, 109, 212, 315, 418];
const W = 106, H = 74;
const ML = 34, MT = 6, MR = 8, MB = 16;
const FONT = { family: '"Liberation Serif", "DejaVu Serif", serif', size: 8 };

const minus = v => (v < 0 ? '\u2212' : '') + Math.abs(v);
const minus1 = v => (v < 0 ? '\u2212' : '') + Math.abs(v).toFixed(1);

const frame = {
    id: 'frame',
    afterDatasetsDraw(chart) {
        const a = chart.chartArea, c = chart.ctx;
        c.save();
        c.strokeStyle = '#333';
        c.lineWidth = 1;
        c.strokeRect(a.left + 0.5, a.top + 0.5, a.right - a.left - 1, a.bottom - a.top - 1);
        c.restore();
    }
};

let zip = (xs, ys) => {
    let n = Math.min(xs.length, ys.length);
    let out = [];
    for (let k = 0; k < n; k++) out.push({ x: xs[k], y: ys[k] });
    return out;
};

let scatterSet = (data, color) => ({
    data: data,
    backgroundColor: color,
    borderColor: '#fff',
    borderWidth: 0.4,
    pointRadius: 1.9,
    showLine: false
});

let lineSet = (data, color, width) => ({
    data: data,
    borderColor: color,
    borderWidth: width,
    pointRadius: 0,
    fill: false,
    cubicInterpolationMode: 'monotone'
});

let makePanel = (i, j) => {
    const canvas = document.createElement('canvas');
    canvas.width = ML + W + MR;
    canvas.height = MT + H + MB;
    canvas.style.left = (lefts[j] - ML) + 'px';
    canvas.style.top = (tops[i] - MT) + 'px';
    document.body.appendChild(canvas);

    const bottom = i === 4;
    const diag = i === j;
    let datasets, ymin, ymax, ystep, yfmt;

    if (diag) {
        ymin = 0;
        ymax = diagMax[i];
        ystep = diagStep[i];
        yfmt = i === 0 ? (v => '' + v) : (v => v.toFixed(1));
        const truthLine = lineSet([{ x: truth[i], y: 0 }, { x: truth[i], y: ymax }], '#111', 1.4);
        truthLine.borderDash = [4, 2.5];
        truthLine.cubicInterpolationMode = 'default';
        datasets = [
            truthLine,
            lineSet(zip(oursKde[i][0], oursKde[i][1]), GREEN, 1.4),
            lineSet(zip(mcmcKde[i][0], mcmcKde[i][1]), ORANGE, 1.4),
            lineSet(zip(kdeGrid, priorKde[i]), BLUE, 1.4)
        ];
    } else {
        ymin = offMin[i];
        ymax = offMax[i];
        ystep = 2;
        yfmt = minus;
        datasets = [
            scatterSet(zip(ours[j], ours[i]), GREEN),
            scatterSet(zip(mcmc[j], mcmc[i]), ORANGE),
            scatterSet(zip(prior[j], prior[i]), BLUE)
        ];
    }

    new Chart(canvas, {
        type: diag ? 'line' : 'scatter',
        data: { datasets: datasets },
        options: {
            responsive: false,
            animation: false,
            events: [],
            layout: { padding: { top: MT, right: MR, left: 0, bottom: 0 } },
            plugins: { legend: { display: false }, tooltip: { enabled: false } },
            scales: {
                x: {
                    type: 'linear',
                    min: -5,
                    max: 5,
                    border: { display: false },
                    grid: { drawOnChartArea: false, drawTicks: true, tickLength: 3.5, tickColor: '#333', tickWidth: 1 },
                    ticks: {
                        stepSize: 2.5,
                        autoSkip: false,
                        maxRotation: 0,
                        padding: 1.5,
                        color: '#3a3a3a',
                        font: FONT,
                        callback: v => bottom ? minus1(v) : ''
                    },
                    afterFit: s => { s.height = MB; }
                },
                y: {
                    min: ymin,
                    max: ymax,
                    border: { display: false },
                    grid: { drawOnChartArea: false, drawTicks: true, tickLength: 3.5, tickColor: '#333', tickWidth: 1 },
                    ticks: {
                        stepSize: ystep,
                        includeBounds: false,
                        autoSkip: false,
                        padding: 2,
                        color: '#3a3a3a',
                        font: FONT,
                        callback: yfmt
                    },
                    afterFit: s => { s.width = ML; }
                }
            }
        },
        plugins: [frame]
    });
};

for (let i = 0; i < 5; i++) {
    for (let j = 0; j <= i; j++) makePanel(i, j);

    // axis labels
    let yl = document.createElement('div');
    yl.className = 'lab';
    yl.innerHTML = '\u03be<sub>' + names[i] + '</sub>';
    yl.style.left = '6px';
    yl.style.top = (tops[i] + H / 2 - 8) + 'px';
    document.body.appendChild(yl);

    let xl = document.createElement('div');
    xl.className = 'lab';
    xl.innerHTML = '\u03be<sub>' + names[i] + '</sub>';
    xl.style.left = (lefts[i] + W / 2 - 5) + 'px';
    xl.style.top = '507px';
    document.body.appendChild(xl);
}
</script>
</body>
</html>
